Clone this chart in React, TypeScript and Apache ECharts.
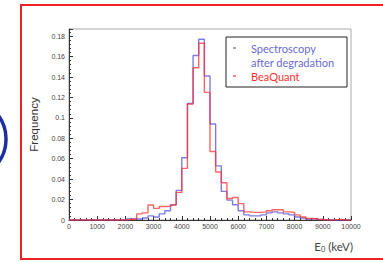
import React, { useEffect, useRef } from "react";
import * as echarts from "echarts";

const binWidth = 200;
const xTickLabels = ["0", "1000", "2000", "3000", "4000", "5000", "6000", "7000", "8000", "9000", "10000"];

const spectroscopy = [
  0, 0, 0, 0, 0, 0, 0, 0, 0, 0,
  0.001, 0.001, 0.001, 0.002, 0.004, 0.003, 0.006, 0.009, 0.015, 0.029,
  0.061, 0.114, 0.161, 0.177, 0.141, 0.094, 0.053, 0.028, 0.0195, 0.015,
  0.009, 0.005, 0.004, 0.004, 0.005, 0.007, 0.008, 0.007, 0.006, 0.005,
  0.003, 0.002, 0.001, 0.0015, 0.0005, 0, 0, 0, 0, 0,
];

const beaQuant = [
  0, 0, 0, 0, 0, 0, 0, 0, 0, 0,
  0.0005, 0.001, 0.006, 0.007, 0.0147, 0.0114, 0.0132, 0.0134, 0.0147, 0.027,
  0.0505, 0.1135, 0.149, 0.173, 0.125, 0.067, 0.047, 0.0365, 0.021, 0.022,
  0.016, 0.008, 0.0075, 0.0075, 0.008, 0.009, 0.01, 0.01, 0.008, 0.0075,
  0.005, 0.003, 0.0015, 0.0012, 0.0005, 0, 0, 0.0005, 0, 0,
];

function toSteps(vals: number[]) {
  const pts = vals.map((v, i) => [i * binWidth, v]);
  pts.push([vals.length * binWidth, vals[vals.length - 1]]);
  return pts;
}

export default function App() {
  const ref = useRef<HTMLDivElement>(null);
  useEffect(() => {
    if (!ref.current) return;
    const chart = echarts.init(ref.current, null, { renderer: "svg" });
    const tickFont = { fontFamily: "Liberation Sans, Arial, sans-serif", fontSize: 7, color: "#444" };
    const borderStyle = { stroke: "#ee2222", lineWidth: 2 };
    chart.setOption({
      animation: false,
      backgroundColor: "#fff",
      grid: {
        left: 69,
        right: 32,
        top: 29,
        bottom: 42,
        show: true,
        borderColor: "#aaa",
        borderWidth: 1,
        backgroundColor: "transparent",
      },
      xAxis: {
        type: "value",
        min: 0,
        max: 10000,
        interval: 1000,
        axisLine: { show: true, lineStyle: { color: "#333", width: 1 } },
        axisTick: { show: true, inside: true, length: 4, lineStyle: { color: "#333" } },
        minorTick: { show: true, splitNumber: 5, length: 2, lineStyle: { color: "#333" } },
        splitLine: { show: false },
        axisLabel: {
          ...tickFont,
          margin: 3,
          formatter: (v: number) => xTickLabels[Math.round(v / 1000)] ?? "",
        },
      },
      yAxis: {
        type: "value",
        min: 0,
        max: 0.187,
        interval: 0.02,
        name: "Frequency",
        nameLocation: "middle",
        nameGap: 28,
        nameTextStyle: { fontFamily: "Liberation Sans, Arial, sans-serif", fontSize: 11.5, color: "#333" },
        axisLine: { show: true, lineStyle: { color: "#333", width: 1 } },
        axisTick: { show: true, inside: true, length: 4, lineStyle: { color: "#333" } },
        minorTick: { show: true, splitNumber: 5, length: 2, lineStyle: { color: "#333" } },
        splitLine: { show: false },
        axisLabel: {
          ...tickFont,
          margin: 4,
          showMaxLabel: false,
          formatter: (v: number) => String(+v.toFixed(2)),
        },
      },
      series: [
        {
          name: "Spectroscopy after degradation",
          type: "line",
          step: "end",
          symbol: "none",
          data: toSteps(spectroscopy),
          lineStyle: { color: "rgba(80,80,215,0.75)", width: 1.4 },
          itemStyle: { color: "rgba(80,80,215,0.75)" },
          z: 2,
        },
        {
          name: "BeaQuant",
          type: "line",
          step: "end",
          symbol: "none",
          data: toSteps(beaQuant),
          lineStyle: { color: "rgba(255,50,50,0.75)", width: 1.4 },
          itemStyle: { color: "rgba(255,50,50,0.75)" },
          z: 3,
        },
      ],
      graphic: [
        { type: "line", shape: { x1: 20, y1: 5, x2: 400, y2: 5 }, style: borderStyle, silent: true, z: 10 },
        { type: "line", shape: { x1: 21, y1: 4, x2: 21, y2: 260 }, style: borderStyle, silent: true, z: 10 },
        { type: "line", shape: { x1: 20, y1: 259, x2: 400, y2: 259 }, style: borderStyle, silent: true, z: 10 },
        {
          type: "arc",
          shape: { cx: -34, cy: 139, r: 40, startAngle: -Math.PI / 2, endAngle: Math.PI / 2 },
          style: { fill: "none", stroke: "#1c2fa0", lineWidth: 3.5 },
          silent: true,
        },
        {
          type: "rect",
          shape: { x: 226, y: 37, width: 121, height: 50 },
          style: { fill: "#fff", stroke: "#222", lineWidth: 1 },
          z: 20,
        },
        {
          type: "rect",
          shape: { x: 233, y: 47.3, width: 3, height: 1.4 },
          style: { fill: "rgba(80,80,215,0.8)" },
          z: 21,
        },
        {
          type: "rect",
          shape: { x: 233, y: 75.3, width: 3, height: 1.4 },
          style: { fill: "rgba(255,50,50,0.85)" },
          z: 21,
        },
        {
          type: "text",
          x: 251,
          y: 48,
          style: { text: "Spectroscopy", fill: "#6a6ad8", font: "11px Lato, sans-serif", textVerticalAlign: "middle" },
          z: 21,
        },
        {
          type: "text",
          x: 251,
          y: 62,
          style: { text: "after degradation", fill: "#6a6ad8", font: "11px Lato, sans-serif", textVerticalAlign: "middle" },
          z: 21,
        },
        {
          type: "text",
          x: 251,
          y: 76,
          style: { text: "BeaQuant", fill: "#ff3030", font: "11px Lato, sans-serif", textVerticalAlign: "middle" },
          z: 21,
        },
        {
          type: "text",
          right: 30,
          top: 240,
          style: {
            text: "E{s|0} (keV)",
            fill: "#444",
            font: "11.5px Lato, sans-serif",
            rich: { s: { fontSize: 7.5, fill: "#444", padding: [6, 0, 0, 0], fontFamily: "Lato, sans-serif" } },
          },
          z: 21,
        },
      ],
    });
    return () => chart.dispose();
  }, []);
  return (
    <div
      ref={ref}
      style={{ position: "fixed", left: 0, top: 0, width: 383, height: 262 }}
    />
  );
}
